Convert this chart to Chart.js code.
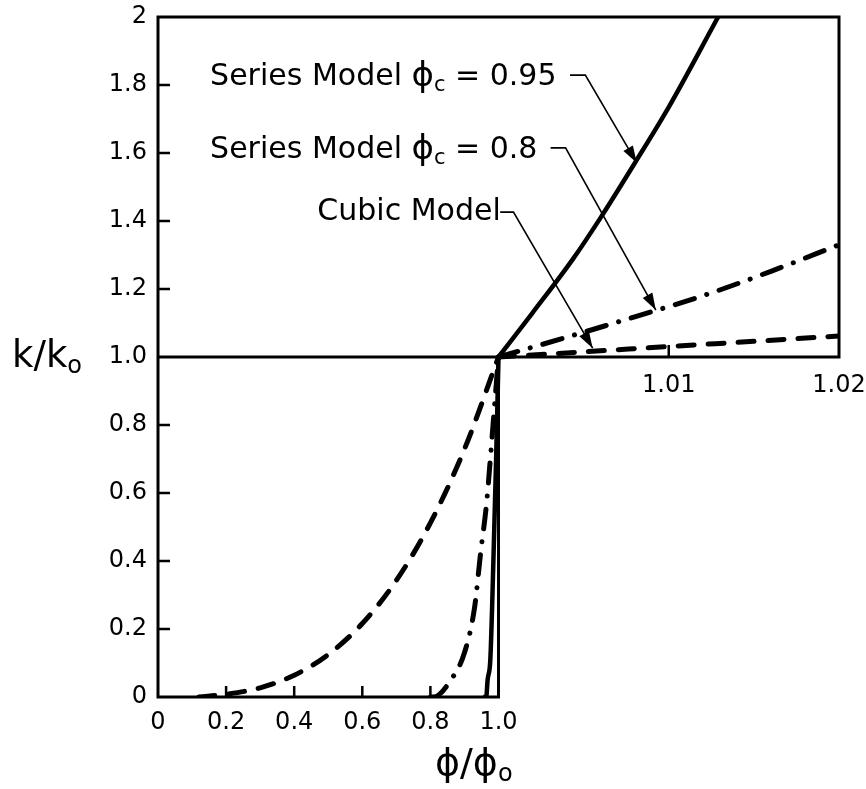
<!doctype html>
<html>
<head>
<meta charset="UTF-8">
<title>k/ko vs phi/phio</title>
<script src="https://cdn.jsdelivr.net/npm/chart.js@4.4.1/dist/chart.umd.min.js"></script>
<style>body{margin:0;background:#fff}</style>
</head>
<body>
<canvas id="canvas" width="866" height="789"></canvas>
<script>
// values (phi/phi0 -> k/k0)
var cubicPhi = [0.12, 0.2, 0.3, 0.4, 0.5, 0.6, 0.7, 0.8, 0.9, 1.0, 1.005, 1.01, 1.015, 1.02];
var cubicK   = [0, 0.008, 0.027, 0.064, 0.125, 0.216, 0.343, 0.512, 0.729, 1.0, 1.015, 1.031, 1.046, 1.062];

var series08Phi = [0.80, 0.81, 0.86, 0.90, 0.93, 0.947, 0.965, 0.976, 0.991, 1.0, 1.004, 1.008, 1.012, 1.016, 1.02];
var series08K   = [0, 0, 0.05, 0.13, 0.265, 0.42, 0.57, 0.70, 0.89, 1.0, 1.058, 1.118, 1.18, 1.252, 1.33];

var series095Phi = [0.955, 0.964, 0.968, 0.976, 0.985, 0.993, 1.0, 1.002, 1.0044, 1.006, 1.008, 1.010, 1.0129];
var series095K   = [0, 0, 0.05, 0.11, 0.40, 0.70, 1.0, 1.13, 1.29, 1.41, 1.57, 1.735, 2.0];

var xTickValues = [0, 0.2, 0.4, 0.6, 0.8, 1.0];
var xTickLabels = ['0', '0.2', '0.4', '0.6', '0.8', '1.0'];
var xUpperTickValues = [1.01, 1.02];
var xUpperTickLabels = ['1.01', '1.02'];
var yTickValues = [0, 0.2, 0.4, 0.6, 0.8, 1.0, 1.2, 1.4, 1.6, 1.8, 2];
var yTickLabels = ['0', '0.2', '0.4', '0.6', '0.8', '1.0', '1.2', '1.4', '1.6', '1.8', '2'];

var FONT = 'DejaVu Sans';

// the axis is broken at 1.0: 0..1 on the left half, 1..1.02 stretched over the right half
function toU(p) { return p <= 1 ? p : 1 + (p - 1) * 50; }
// lower (phi <= 1) and upper (phi >= 1) branches are separate panels, so split them
function pts(ph, kk, upper) {
	var out = [];
	ph.forEach(function (p, i) {
		if (upper ? p >= 1 : p <= 1) out.push({x: toU(p), y: kk[i]});
	});
	return out;
}

// labels with leader arrows, anchored in data units (phi, k)
var notes = [
	{parts: [['Series Model ', 30, 0], ['\u03D5', 34, 0], ['c', 21, 9], [' = 0.95', 30, 0]], at: [0.153, 1.824],
		leader: [[1.0042, 1.829], [1.0051, 1.829], [1.00812, 1.571]]},
	{parts: [['Series Model ', 30, 0], ['\u03D5', 34, 0], ['c', 21, 9], [' = 0.8', 30, 0]], at: [0.153, 1.609],
		leader: [[1.00306, 1.615], [1.00394, 1.615], [1.00924, 1.138]]},
	{parts: [['Cubic Model', 30, 0]], at: [0.468, 1.426],
		leader: [[1.0001, 1.426], [1.00088, 1.426], [1.00553, 1.026]]}
];

function drawParts(c, x, y, parts) {
	c.textBaseline = 'middle';
	c.textAlign = 'left';
	parts.forEach(function (p) {
		c.font = p[1] + 'px "' + FONT + '"';
		c.fillText(p[0], x, y + p[2]);
		x += c.measureText(p[0]).width;
	});
	return x;
}

var framePlugin = {
	id: 'frame',
	beforeDatasetsDraw: function (chart) {
		var c = chart.ctx, sx = chart.scales.x, sy = chart.scales.y;
		var px = function (p) { return sx.getPixelForValue(toU(p)); };
		var py = function (k) { return sy.getPixelForValue(k); };
		c.save();
		c.strokeStyle = '#000';
		c.lineWidth = 3;
		c.lineCap = 'square';
		c.beginPath();
		c.moveTo(px(0), py(0)); c.lineTo(px(0), py(2)); c.lineTo(px(1.02), py(2));
		c.lineTo(px(1.02), py(1)); c.lineTo(px(0), py(1));
		c.moveTo(px(0), py(0)); c.lineTo(px(1), py(0)); c.lineTo(px(1), py(1));
		c.stroke();
		// inward ticks
		c.lineWidth = 2.5;
		c.lineCap = 'butt';
		c.beginPath();
		yTickValues.forEach(function (v) {
			if (v > 0 && v < 2 && v !== 1) { c.moveTo(px(0), py(v)); c.lineTo(px(0) + 12, py(v)); }
		});
		xTickValues.forEach(function (v) {
			if (v > 0 && v < 1) { c.moveTo(px(v), py(0)); c.lineTo(px(v), py(0) - 11); }
		});
		c.moveTo(px(1.01), py(1)); c.lineTo(px(1.01), py(1) - 12);
		c.stroke();
		c.restore();
	},
	afterDatasetsDraw: function (chart) {
		var c = chart.ctx, sx = chart.scales.x, sy = chart.scales.y, a = chart.chartArea;
		var px = function (p) { return sx.getPixelForValue(toU(p)); };
		var py = function (k) { return sy.getPixelForValue(k); };
		c.save();
		c.fillStyle = '#000';
		c.strokeStyle = '#000';
		notes.forEach(function (n) {
			drawParts(c, px(n.at[0]), py(n.at[1]), n.parts);
			var L = n.leader.map(function (q) { return [px(q[0]), py(q[1])]; });
			c.lineWidth = 1.6;
			c.beginPath();
			c.moveTo(L[0][0], L[0][1]);
			for (var i = 1; i < L.length; i++) c.lineTo(L[i][0], L[i][1]);
			c.stroke();
			var t = L[L.length - 1], f = L[L.length - 2];
			var ang = Math.atan2(t[1] - f[1], t[0] - f[0]);
			c.save();
			c.translate(t[0], t[1]);
			c.rotate(ang);
			c.beginPath();
			c.moveTo(0, 0); c.lineTo(-17, -5.5); c.lineTo(-17, 5.5); c.closePath();
			c.fill();
			c.restore();
		});
		// axis titles
		drawParts(c, 12, py(1), [['k/k', 37, 0], ['o', 24, 10]]);
		drawParts(c, a.left + 277, a.bottom + 68, [['\u03D5/\u03D5', 38, 0], ['o', 24, 10]]);
		c.restore();
	}
};

function noOverhang(s) {
	s.paddingLeft = 0; s.paddingRight = 0; s.paddingTop = 0; s.paddingBottom = 0;
}

var tickFont = {family: FONT, size: 24};
var solid = {borderColor: '#000', borderWidth: 4.5, pointRadius: 0, cubicInterpolationMode: 'monotone'};
var dashDot = {borderColor: '#000', borderWidth: 5, borderDash: [20, 13, 0.1, 13], borderCapStyle: 'round', pointRadius: 0, cubicInterpolationMode: 'monotone'};
var dashed = {borderColor: '#000', borderWidth: 5, borderDash: [16, 14], borderCapStyle: 'round', pointRadius: 0, cubicInterpolationMode: 'monotone'};

var ctx = document.getElementById('canvas').getContext('2d');
window.myChart = new Chart(ctx, {
	type: 'line',
	data: {
		datasets: [
			Object.assign({label: 'Series Model \u03D5c = 0.95', data: pts(series095Phi, series095K, false)}, solid),
			Object.assign({label: 'Series Model \u03D5c = 0.95 ', data: pts(series095Phi, series095K, true)}, solid),
			Object.assign({label: 'Series Model \u03D5c = 0.8', data: pts(series08Phi, series08K, false)}, dashDot),
			Object.assign({label: 'Series Model \u03D5c = 0.8 ', data: pts(series08Phi, series08K, true)}, dashDot),
			Object.assign({label: 'Cubic Model', data: pts(cubicPhi, cubicK, false)}, dashed),
			Object.assign({label: 'Cubic Model ', data: pts(cubicPhi, cubicK, true)}, dashed)
		]
	},
	options: {
		responsive: false,
		animation: false,
		layout: {padding: {top: 17, right: 27, left: 0, bottom: 0}},
		plugins: {legend: {display: false}, tooltip: {enabled: false}},
		scales: {
			x: {
				type: 'linear', min: 0, max: 2,
				afterBuildTicks: function (s) { s.ticks = xTickValues.map(function (v) { return {value: toU(v)}; }); },
				afterFit: function (s) { s.height = 92; noOverhang(s); },
				grid: {display: false, drawTicks: false},
				border: {display: false},
				ticks: {callback: function (v, i) { return xTickLabels[i]; }, font: tickFont, color: '#000', padding: 11, maxRotation: 0, autoSkip: false}
			},
			x2: {
				type: 'linear', axis: 'x', min: 0, max: 2, position: {y: 1},
				afterBuildTicks: function (s) { s.ticks = xUpperTickValues.map(function (v) { return {value: toU(v)}; }); },
				afterFit: function (s) { s.height = 0; noOverhang(s); },
				grid: {display: false, drawTicks: false},
				border: {display: false},
				ticks: {callback: function (v, i) { return xUpperTickLabels[i]; }, font: tickFont, color: '#000', padding: 14, maxRotation: 0, autoSkip: false}
			},
			y: {
				type: 'linear', min: 0, max: 2,
				afterBuildTicks: function (s) { s.ticks = yTickValues.map(function (v) { return {value: v}; }); },
				afterFit: function (s) { s.width = 158; noOverhang(s); },
				grid: {display: false, drawTicks: false},
				border: {display: false},
				ticks: {callback: function (v, i) { return yTickLabels[i]; }, font: tickFont, color: '#000', padding: 11, autoSkip: false}
			}
		}
	},
	plugins: [framePlugin]
});
</script>
</body>
</html>
